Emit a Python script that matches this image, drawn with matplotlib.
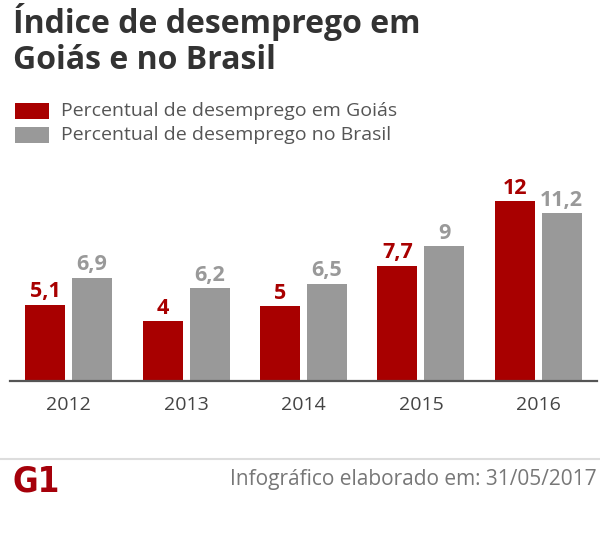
import matplotlib.pyplot as plt
import numpy as np

# Data
years = ["2012", "2013", "2014", "2015", "2016"]
goias = [5.1, 4.0, 5.0, 7.7, 12.0]
brasil = [6.9, 6.2, 6.5, 9.0, 11.2]
goias_labels = ["5,1", "4", "5", "7,7", "12"]
brasil_labels = ["6,9", "6,2", "6,5", "9", "11,2"]

title = "Índice de desemprego em\nGoiás e no Brasil"
legend_names = ["Percentual de desemprego em Goiás", "Percentual de desemprego no Brasil"]
footer = "Infográfico elaborado em: 31/05/2017"

RED = "#a80000"
GRAY = "#999999"

W, H = 600, 534
fig = plt.figure(figsize=(W / 100, H / 100), dpi=100)

# helper: pixel box -> figure fraction
def px_axes(x0, y0, x1, y1):
    return [x0 / W, 1 - y1 / H, (x1 - x0) / W, (y1 - y0) / H]

ax = fig.add_axes(px_axes(10, 181, 597, 381))
x = np.arange(len(years))
bw = 0.34
off = 0.2
b1 = ax.bar(x - off, goias, bw, color=RED)
b2 = ax.bar(x + off, brasil, bw, color=GRAY)

for bars, labs, c in [(b1, goias_labels, RED), (b2, brasil_labels, GRAY)]:
    for rect, lab in zip(bars, labs):
        ax.annotate(lab, (rect.get_x() + rect.get_width() / 2, rect.get_height()),
                    xytext=(0, 1.5), textcoords="offset points", ha="center", va="bottom",
                    fontsize=15.5, fontweight="bold", color=c, family="Open Sans")

ax.set_xlim(-0.5, 4.5)
ax.set_ylim(0, 200 / 15)
ax.set_xticks(x)
ax.set_xticklabels(years, fontsize=14, color="#444444", family="Open Sans")
ax.tick_params(axis="x", length=0, pad=11)
ax.set_yticks([])
for s in ["top", "left", "right"]:
    ax.spines[s].set_visible(False)
ax.spines["bottom"].set_color("#555555")
ax.spines["bottom"].set_linewidth(1.6)

# title
fig.text(13 / W, 1 - 3 / H, title, ha="left", va="top", fontsize=23,
         fontweight="bold", color="#333333", family="Open Sans", linespacing=1.12)

# legend
colors = [RED, GRAY]
for i, (name, c) in enumerate(zip(legend_names, colors)):
    y0 = 103 + i * 24
    lax = fig.add_axes(px_axes(15, y0, 49, y0 + 16))
    lax.axis("off")
    lax.add_patch(plt.Rectangle((0, 0), 1, 1, color=c, transform=lax.transAxes))
    fig.text(61 / W, 1 - (y0 + 8) / H, name, ha="left", va="center", fontsize=14,
             color="#555555", family="Open Sans")

# footer
fig.add_artist(plt.Line2D([0, 1], [1 - 459 / H, 1 - 459 / H], color="#dddddd", lw=1.5))
fig.text(597 / W, 1 - 479 / H, footer, ha="right", va="center", fontsize=15,
         color="#777777", family="Open Sans")
fig.text(12 / W, 1 - 482 / H, "G1", ha="left", va="center", fontsize=25,
         fontweight="heavy", color="#a5000a", family="DejaVu Sans", fontstretch="condensed")

fig.savefig("out.png", dpi=100)
